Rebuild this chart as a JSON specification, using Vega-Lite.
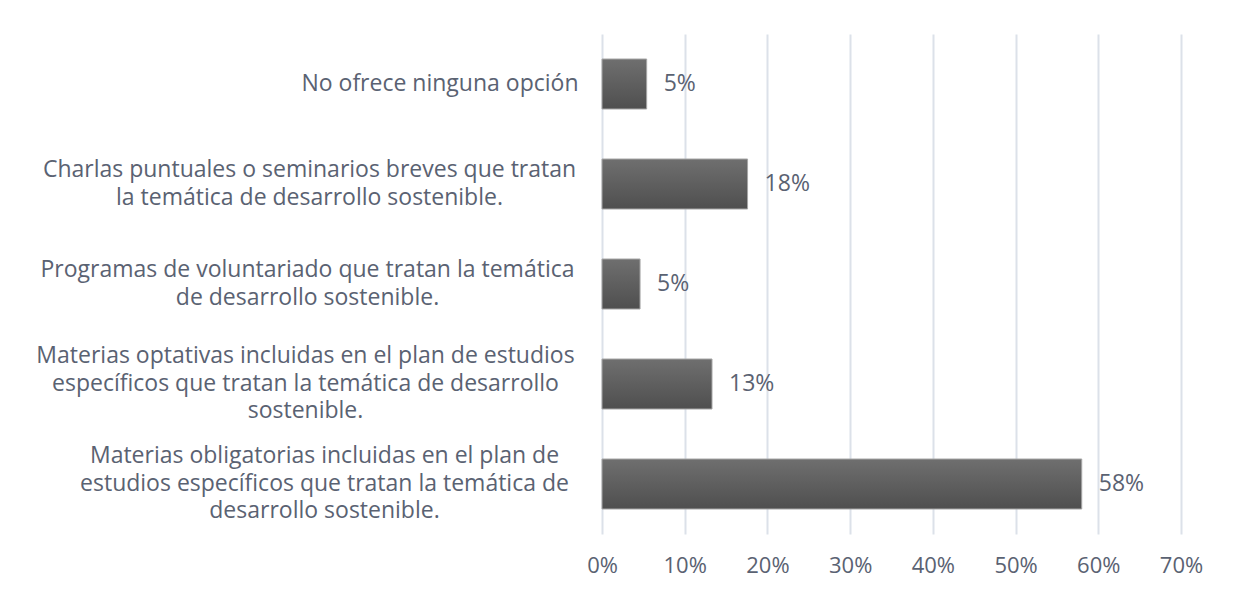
{
  "$schema": "https://vega.github.io/schema/vega-lite/v6.json",
  "width": 579,
  "height": 500,
  "autosize": {"type": "none"},
  "padding": {"left": 602, "top": 34, "right": 55, "bottom": 60},
  "background": "white",
  "config": {"view": {"stroke": null}, "font": "Open Sans"},
  "data": {
    "values": [
      {"opcion": "No ofrece ninguna opción", "porcentaje": 0.054},
      {"opcion": "Charlas puntuales o seminarios breves que tratan\nla temática de desarrollo sostenible.", "porcentaje": 0.176},
      {"opcion": "Programas de voluntariado que tratan la temática\nde desarrollo sostenible.", "porcentaje": 0.046},
      {"opcion": "Materias optativas incluidas en el plan de estudios\nespecíficos que tratan la temática de desarrollo\nsostenible.", "porcentaje": 0.133},
      {"opcion": "Materias obligatorias incluidas en el plan de\nestudios específicos que tratan la temática de\ndesarrollo sostenible.", "porcentaje": 0.58}
    ]
  },
  "encoding": {
    "y": {
      "field": "opcion", "type": "nominal", "sort": null,
      "scale": {"paddingInner": 0.5, "paddingOuter": 0.25},
      "axis": {
        "title": null, "domain": false, "ticks": false, "grid": false,
        "labelExpr": "split(datum.label, '\\n')",
        "labelAlign": {"condition": {"test": "indexof(datum.value, 'No ofrece') === 0", "value": "right"}, "value": "center"},
        "labelBaseline": "middle",
        "labelPadding": {"expr": "indexof(datum.value, 'No ofrece') === 0 ? 24 : indexof(datum.value, 'Charlas') === 0 ? 293 : indexof(datum.value, 'Programas') === 0 ? 295 : indexof(datum.value, 'Materias optativas') === 0 ? 297 : 278"},
        "labelOffset": {"expr": "indexof(datum.value, 'No ofrece') === 0 ? 0 : indexof(datum.value, 'Charlas') === 0 || indexof(datum.value, 'Programas') === 0 ? -14 : -28"},
        "labelLimit": 700,
        "labelFontSize": 23, "labelLineHeight": 27.5, "labelColor": "#5a6272"
      }
    },
    "x": {
      "field": "porcentaje", "type": "quantitative",
      "scale": {"domain": [0, 0.7]},
      "axis": {
        "title": null, "domain": false, "ticks": false,
        "values": [0, 0.1, 0.2, 0.3, 0.4, 0.5, 0.6, 0.7],
        "format": ".0%", "grid": true, "gridColor": "#dce1e9", "gridWidth": 2,
        "labelFlush": false,
        "labelPadding": 21, "labelFontSize": 22, "labelColor": "#5a6272"
      }
    }
  },
  "layer": [
    {
      "mark": {
        "type": "bar",
        "fill": {
          "gradient": "linear", "x1": 0, "y1": 0, "x2": 0, "y2": 1,
          "stops": [{"offset": 0, "color": "#6f6f6f"}, {"offset": 1, "color": "#4f4f4f"}]
        },
        "stroke": "#a6a6a6",
        "strokeWidth": 1
      }
    },
    {
      "mark": {"type": "text", "align": "left", "baseline": "middle", "dx": 17, "fontSize": 23, "color": "#5a6272"},
      "encoding": {
        "text": {"field": "porcentaje", "type": "quantitative", "format": ".0%"}
      }
    }
  ]
}
